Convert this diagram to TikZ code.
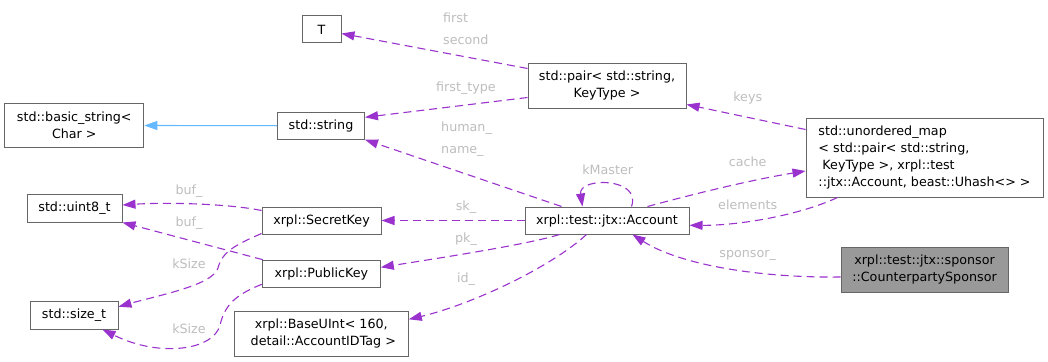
\documentclass[tikz,border=0pt]{standalone}
\usepackage{fontspec}
\setmainfont{DejaVu Sans}
\usetikzlibrary{arrows.meta,calc}
\definecolor{edgec}{HTML}{9A32CD}
\definecolor{inhc}{HTML}{63B8FF}
\definecolor{boxc}{HTML}{666666}
\definecolor{labc}{HTML}{BEBEBE}
\definecolor{hlc}{HTML}{999999}
\tikzset{
  box/.style={draw=boxc, fill=white, line width=1pt, inner sep=0pt, align=center,
    font=\fontsize{12.7}{16.8}\selectfont, text=black},
  rel/.style={draw=edgec, line width=1.1pt, dash pattern=on 8pt off 5pt,
    -{Triangle[length=13pt,width=9pt]}},
  inh/.style={draw=inhc, line width=1.1pt, -{Triangle[length=13pt,width=9pt]}},
  lab/.style={text=labc, inner sep=0pt, font=\fontsize{12.7}{21.8}\selectfont}
}
\begin{document}
\begin{tikzpicture}[x=1pt,y=-1pt]
\fill[white] (0,0) rectangle (1048,361);
\useasboundingbox (0,0) rectangle (1048,361);

% nodes
\node[box, minimum width=39pt, minimum height=27pt] (T) at (321.5,29.5) {T};
\node[box, minimum width=139pt, minimum height=44pt] (bstr) at (74.3,125.5) {std::basic\_string<\\Char >};
\node[box, minimum width=87pt, minimum height=27pt] (str) at (321,125.7) {std::string};
\node[box, minimum width=158pt, minimum height=45pt] (pair) at (607,85.5) {std::pair< std::string,\\KeyType >};
\node[box, minimum width=237pt, minimum height=79pt, align=left] (map) at (924.5,157.5)
  {std::unordered\_map\\< std::pair< std::string,\\\hspace*{4pt}KeyType >, xrpl::test\\::jtx::Account, beast::Uhash<> >};
\node[box, minimum width=164pt, minimum height=27pt] (acct) at (607,220.5) {xrpl::test::jtx::Account};
\node[box, fill=hlc, minimum width=167pt, minimum height=45pt] (spons) at (924.5,269.5) {xrpl::test::jtx::sponsor\\::CounterpartySponsor};
\node[box, minimum width=95pt, minimum height=28pt] (u8) at (74.5,208) {std::uint8\_t};
\node[box, minimum width=119pt, minimum height=27pt] (sk) at (321.5,220.5) {xrpl::SecretKey};
\node[box, minimum width=118pt, minimum height=27pt] (pk) at (321.3,273.7) {xrpl::PublicKey};
\node[box, minimum width=88pt, minimum height=28pt] (szt) at (74,315) {std::size\_t};
\node[box, minimum width=174pt, minimum height=45pt] (buint) at (321.3,333.5) {xrpl::BaseUInt< 160,\\\hspace*{4pt}detail::AccountIDTag >};

% inheritance
\draw[inh] (str.west) -- (bstr.east);

% relations
\draw[rel] ($(pair.north west)+(0,6)$) -- ($(T.east)+(0,4)$);
\node[lab, anchor=west, align=left] (l1) at (443,28.5) {first\\second};

\draw[rel] ($(pair.south west)+(0,-11)$) -- ($(str.east)+(0,-8.4)$);
\node[lab] (l2) at (466,88.3) {first\_type};

\draw[rel] ($(acct.north west)+(37,0)$) -- (str.south east);
\node[lab, anchor=west, align=left] (l3) at (441,139) {human\_\\name\_};

\draw[rel] ($(map.north west)+(0,12)$) -- ($(pair.south east)+(0,-4)$);
\node[lab] (l4) at (747.7,98) {keys};

\draw[rel] ($(acct.north west)+(123,0)$) .. controls (690,195) and (750,180) .. ($(map.west)+(0,13.5)$);
\node[lab] (l5) at (747.7,161.7) {cache};

\draw[rel] ($(map.south west)+(32,0)$) .. controls (800,215) and (740,225.5) .. ($(acct.east)+(0,4.8)$);
\node[lab] (l6) at (747.7,204.3) {elements};

\draw[rel] ($(acct.north west)+(107,0)$) .. controls (642,177) and (578,177) .. ($(acct.north west)+(58,0)$);
\node[lab] (l7) at (607.7,170) {kMaster};

\draw[rel] (acct.west) -- (sk.east);
\node[lab] (l8) at (466,207.3) {sk\_};

\draw[rel] ($(acct.south west)+(35,0)$) .. controls (530,244) and (440,258) .. ($(pk.east)+(0,-6.4)$);
\node[lab] (l9) at (466,239.3) {pk\_};

\draw[rel] ($(acct.south west)+(62,0)$) .. controls (550,268) and (470,305) .. ($(buint.east)+(0,-14.2)$);
\node[lab] (l10) at (466,279.3) {id\_};

\draw[rel] ($(spons.west)+(0,7.5)$) .. controls (760,278) and (680,265) .. ($(acct.south west)+(108,0)$);
\node[lab] (l11) at (747.7,255.7) {sponsor\_};

\draw[rel] ($(sk.north west)+(0,4)$) .. controls (230,204) and (170,202) .. ($(u8.east)+(0,-3)$);
\node[lab] (l12) at (189,191) {buf\_};

\draw[rel] ($(pk.north west)+(1,0)$) -- (u8.south east);
\node[lab] (l13) at (189,222.7) {buf\_};

\draw[rel] ($(sk.south west)+(0,-1)$) .. controls (235,245) and (222,252) .. (218,268)
  .. controls (213,285) and (160,295) .. ($(szt.east)+(0,-8.3)$);
\node[lab] (l14) at (189,263.3) {kSize};

\draw[rel] ($(pk.south west)+(0,-3.4)$) .. controls (235,295) and (225,305) .. (220,325)
  .. controls (214,350) and (160,358) .. ($(szt.south east)+(-16,0)$);
\node[lab] (l15) at (189,328.3) {kSize};
\end{tikzpicture}
\end{document}
